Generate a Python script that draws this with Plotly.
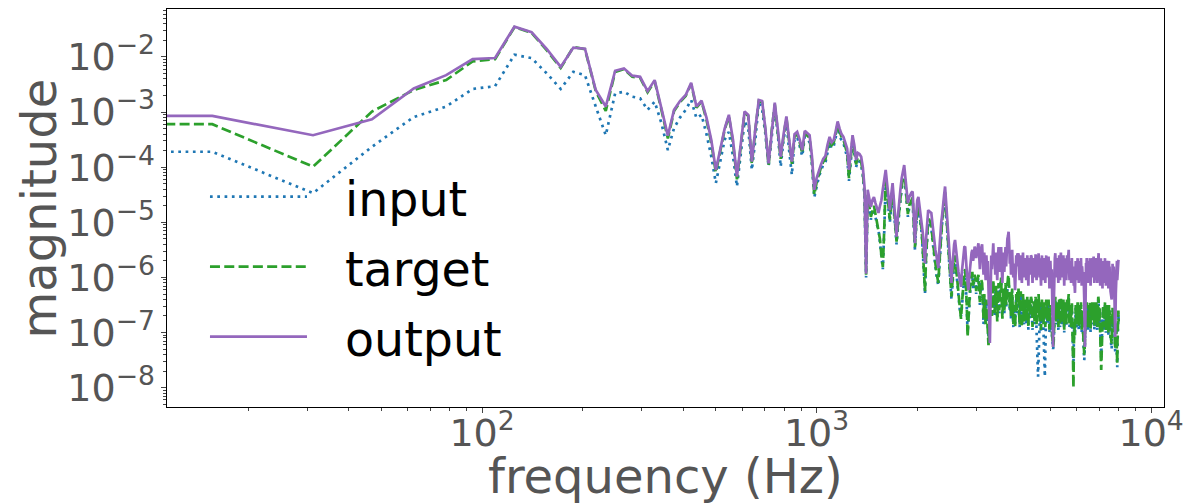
import numpy as np
import plotly.graph_objects as go

SAMPLE_RATE = 16000
N_FFT = 1024

# log10 magnitudes per rFFT bin (k = 0 .. 512)
input_log10 = [
-3.72,-3.72,-4.47,-3.63,-3.09,-2.90,-2.58,-2.53,-1.96,-2.02,
-2.30,-2.58,-2.27,-2.33,-2.90,-3.42,-2.66,-2.63,-2.72,-2.75,
-2.96,-2.81,-3.20,-3.69,-3.29,-3.10,-2.96,-2.78,-3.11,-3.05,
-3.40,-3.80,-4.29,-3.90,-3.50,-3.36,-3.80,-4.35,-3.70,-3.17,
-3.30,-4.05,-3.50,-2.83,-2.95,-3.40,-3.99,-3.50,-2.93,-3.40,
-3.99,-3.50,-3.17,-3.70,-4.14,-3.50,-3.45,-3.62,-3.80,-3.45,
-3.48,-3.55,-3.95,-4.55,-4.35,-4.18,-4.06,-3.96,-3.92,-3.72,
-3.56,-3.66,-3.62,-3.46,-3.28,-3.42,-3.52,-3.56,-3.68,-3.82,
-4.25,-3.84,-3.54,-3.74,-4.00,-3.88,-3.90,-3.96,-4.15,-4.50,
-6.00,-4.55,-4.80,-4.95,-4.85,-4.75,-4.90,-5.05,-5.12,-5.35,
-5.65,-5.85,-5.15,-4.25,-4.50,-4.75,-5.00,-4.70,-4.45,-4.80,
-5.20,-5.40,-5.10,-4.80,-4.60,-4.40,-4.20,-4.10,-4.35,-4.65,
-4.90,-4.75,-4.70,-4.65,-4.60,-5.10,-5.50,-5.10,-4.80,-4.75,
-4.90,-5.05,-5.20,-5.55,-5.95,-6.30,-5.65,-5.20,-5.00,-5.00,
-5.05,-5.10,-5.30,-5.50,-5.70,-5.85,-5.95,-6.05,-6.15,-5.80,
-5.45,-5.20,-5.00,-4.85,-4.65,-4.50,-4.80,-5.10,-5.45,-5.65,
-5.90,-6.20,-6.40,-6.15,-5.90,-5.75,-5.65,-5.85,-6.00,-6.15,
-6.35,-6.50,-6.65,-6.70,-6.55,-6.30,-6.10,-5.95,-5.90,-6.15,
-6.55,-7.00,-6.75,-6.45,-6.25,-6.10,-6.00,-5.95,-6.20,-6.10,
-6.00,-6.10,-6.30,-6.15,-6.05,-6.00,-6.25,-6.50,-6.20,-6.10,
-6.20,-6.40,-6.85,-6.35,-6.60,-6.80,-6.45,-6.75,-6.90,-7.10,
-6.85,-6.45,-6.25,-6.50,-6.65,-6.30,-6.10,-6.45,-6.70,-6.30,
-6.20,-6.55,-6.75,-6.45,-6.15,-6.65,-6.30,-6.10,-6.05,-6.50,
-6.70,-6.45,-6.25,-6.65,-6.35,-6.15,-6.55,-6.30,-6.10,-6.05,
-6.00,-6.25,-6.60,-6.35,-6.75,-6.45,-6.25,-6.65,-6.90,-6.55,
-6.80,-6.85,-6.60,-6.35,-6.65,-6.30,-6.50,-6.25,-6.70,-6.90,
-6.50,-6.30,-6.75,-6.85,-6.55,-6.35,-6.65,-6.85,-6.45,-6.60,
-6.50,-6.85,-6.70,-6.40,-6.65,-6.95,-6.55,-6.45,-6.75,-6.50,
-6.40,-6.45,-6.70,-6.95,-6.55,-6.75,-6.45,-6.85,-6.65,-6.40,
-6.70,-7.00,-7.30,-7.60,-7.80,-7.50,-7.00,-6.85,-6.50,-6.75,
-7.00,-6.65,-6.45,-6.80,-6.55,-6.90,-7.20,-7.50,-7.80,-7.40,
-6.90,-6.45,-6.80,-6.55,-6.85,-6.65,-6.45,-6.75,-7.00,-6.70,
-6.55,-6.80,-6.95,-7.05,-7.15,-7.25,-7.30,-7.25,-6.95,-6.65,
-6.50,-6.40,-6.65,-6.85,-6.55,-6.80,-6.50,-6.70,-6.95,-6.60,
-6.45,-6.75,-6.90,-6.55,-6.40,-6.70,-6.85,-6.50,-6.80,-6.60,
-6.45,-6.75,-7.00,-6.65,-6.50,-6.80,-6.55,-6.90,-6.70,-6.45,
-6.65,-6.50,-6.40,-6.35,-6.70,-6.90,-6.60,-6.80,-6.55,-6.95,
-6.70,-6.50,-6.75,-7.00,-7.30,-7.60,-7.20,-6.85,-7.00,-7.05,
-6.80,-6.55,-6.70,-6.90,-6.60,-6.75,-6.50,-6.85,-6.65,-6.95,
-6.60,-6.80,-6.55,-6.90,-6.70,-6.50,-6.75,-7.00,-6.65,-6.85,
-6.70,-6.95,-7.10,-7.30,-7.50,-7.37,-7.25,-6.95,-6.75,-6.60,
-6.70,-6.50,-6.85,-6.65,-6.95,-6.60,-6.80,-6.55,-6.90,-6.70,
-6.50,-6.80,-7.00,-6.65,-6.55,-6.85,-6.70,-6.50,-6.75,-6.60,
-6.55,-6.50,-6.75,-6.95,-6.65,-6.80,-6.55,-6.90,-6.70,-6.50,
-6.80,-6.60,-6.95,-6.65,-6.45,-6.40,-6.45,-6.70,-6.85,-6.60,
-6.75,-7.00,-7.15,-7.35,-7.45,-7.25,-6.95,-6.75,-7.05,-6.70,
-6.55,-6.85,-6.70,-6.95,-6.60,-6.80,-6.50,-6.90,-6.65,-7.00,
-6.75,-6.55,-6.85,-6.70,-6.95,-6.60,-6.80,-7.05,-6.70,-6.55,
-6.90,-6.65,-7.00,-6.75,-7.10,-7.15,-7.20,-7.25,-7.30,-7.05,
-6.75,-6.60,-6.90,-6.70,-6.95,-6.65,-6.80,-7.05,-7.15,-7.25,
-7.35,-7.15,-6.95,-6.85,-7.10,-7.30,-7.50,-7.63,-7.20,-6.75,
-6.90,-6.65,-6.85,
]

target_log10 = [
-3.22,-3.22,-3.99,-2.99,-2.60,-2.42,-2.08,-2.04,-1.46,-1.56,
-1.88,-2.20,-1.82,-1.86,-2.62,-2.98,-2.27,-2.22,-2.36,-2.38,
-2.64,-2.44,-2.96,-3.48,-2.98,-2.82,-2.71,-2.49,-2.92,-2.81,
-3.14,-3.55,-4.10,-3.72,-3.32,-3.07,-3.55,-4.22,-3.62,-3.01,
-3.07,-3.95,-3.32,-2.80,-2.82,-3.33,-3.97,-3.33,-2.86,-3.33,
-3.85,-3.44,-3.10,-3.54,-3.94,-3.44,-3.40,-3.55,-3.75,-3.38,
-3.42,-3.47,-3.88,-4.50,-4.28,-4.12,-4.00,-3.90,-3.86,-3.66,
-3.50,-3.60,-3.56,-3.40,-3.22,-3.35,-3.45,-3.50,-3.62,-3.75,
-4.20,-3.78,-3.48,-3.68,-3.95,-3.82,-3.84,-3.90,-4.10,-4.45,
-5.95,-4.50,-4.75,-4.90,-4.80,-4.70,-4.85,-5.00,-5.08,-5.30,
-5.60,-5.81,-5.10,-4.20,-4.45,-4.70,-4.95,-4.65,-4.40,-4.75,
-5.15,-5.35,-5.05,-4.75,-4.55,-4.35,-4.15,-4.05,-4.30,-4.60,
-4.85,-4.70,-4.65,-4.60,-4.55,-5.05,-5.45,-5.05,-4.75,-4.70,
-4.85,-5.00,-5.15,-5.50,-5.90,-6.25,-5.60,-5.15,-4.95,-4.95,
-5.00,-5.05,-5.25,-5.45,-5.65,-5.80,-5.90,-6.00,-6.10,-5.75,
-5.40,-5.15,-4.95,-4.80,-4.60,-4.45,-4.75,-5.05,-5.40,-5.60,
-5.85,-6.15,-6.35,-6.10,-5.85,-5.70,-5.60,-5.80,-5.95,-6.10,
-6.30,-6.45,-6.60,-6.75,-6.50,-6.25,-6.05,-5.90,-5.85,-6.10,
-6.50,-7.08,-6.70,-6.40,-6.20,-6.05,-5.95,-5.90,-6.15,-6.05,
-5.95,-6.05,-6.25,-6.10,-6.00,-5.95,-6.20,-6.45,-6.15,-6.05,
-6.10,-6.45,-6.75,-6.30,-6.55,-6.85,-6.40,-6.70,-6.95,-7.23,
-6.80,-6.50,-6.20,-6.45,-6.70,-6.25,-6.05,-6.40,-6.65,-6.35,
-6.15,-6.50,-6.80,-6.40,-6.10,-6.60,-6.35,-6.05,-6.00,-6.45,
-6.75,-6.40,-6.20,-6.60,-6.30,-6.10,-6.50,-6.25,-6.05,-6.00,
-5.95,-6.20,-6.55,-6.30,-6.70,-6.40,-6.20,-6.60,-6.85,-6.50,
-6.75,-6.90,-6.55,-6.30,-6.60,-6.25,-6.45,-6.20,-6.65,-6.85,
-6.45,-6.25,-6.70,-6.90,-6.50,-6.30,-6.60,-6.80,-6.40,-6.55,
-6.45,-6.80,-6.65,-6.35,-6.60,-6.90,-6.50,-6.40,-6.70,-6.45,
-6.35,-6.40,-6.65,-6.90,-6.50,-6.70,-6.40,-6.80,-6.60,-6.35,
-6.65,-6.85,-6.50,-6.40,-6.65,-6.30,-6.55,-6.80,-6.45,-6.70,
-6.95,-6.60,-6.40,-6.75,-6.50,-6.85,-6.65,-6.45,-6.70,-6.90,
-6.55,-6.40,-6.75,-6.50,-6.80,-6.60,-6.40,-6.70,-6.95,-6.65,
-6.50,-6.75,-6.90,-7.00,-7.10,-7.20,-7.25,-7.20,-6.90,-6.60,
-6.45,-6.35,-6.60,-6.80,-6.50,-6.75,-6.45,-6.65,-6.90,-6.55,
-6.40,-6.70,-6.85,-6.50,-6.35,-6.65,-6.80,-6.45,-6.75,-6.55,
-6.40,-6.70,-6.95,-6.60,-6.45,-6.75,-6.50,-6.85,-6.65,-6.40,
-6.60,-6.45,-6.35,-6.30,-6.65,-6.85,-6.55,-6.75,-6.50,-6.90,
-6.65,-6.45,-6.70,-7.00,-7.50,-8.00,-7.40,-6.80,-6.95,-7.05,
-6.75,-6.50,-6.65,-6.85,-6.55,-6.70,-6.45,-6.80,-6.60,-6.90,
-6.55,-6.75,-6.50,-6.85,-6.65,-6.45,-6.70,-6.95,-6.60,-6.80,
-6.65,-6.90,-7.05,-7.20,-7.40,-7.30,-7.20,-6.90,-6.70,-6.55,
-6.65,-6.45,-6.80,-6.60,-6.90,-6.55,-6.75,-6.50,-6.85,-6.65,
-6.45,-6.75,-6.95,-6.60,-6.50,-6.80,-6.65,-6.45,-6.70,-6.55,
-6.50,-6.45,-6.70,-6.90,-6.60,-6.75,-6.50,-6.85,-6.65,-6.45,
-6.75,-6.55,-6.90,-6.60,-6.40,-6.35,-6.40,-6.65,-6.80,-6.55,
-6.70,-6.95,-7.20,-7.50,-7.68,-7.30,-6.90,-6.70,-7.00,-6.65,
-6.50,-6.80,-6.65,-6.90,-6.55,-6.75,-6.45,-6.85,-6.60,-6.95,
-6.70,-6.50,-6.80,-6.65,-6.90,-6.55,-6.75,-7.00,-6.65,-6.50,
-6.85,-6.60,-6.95,-6.70,-7.05,-7.10,-7.15,-7.15,-7.20,-7.00,
-6.70,-6.55,-6.85,-6.65,-6.90,-6.60,-6.75,-7.00,-7.10,-7.20,
-7.30,-7.10,-6.90,-6.80,-7.00,-7.20,-7.40,-7.56,-7.10,-6.70,
-6.85,-6.60,-6.80,
]

output_log10 = [
-3.07,-3.07,-3.42,-3.13,-2.57,-2.33,-2.04,-2.02,-1.45,-1.55,
-1.86,-2.18,-1.83,-1.85,-2.60,-2.90,-2.25,-2.21,-2.34,-2.36,
-2.62,-2.42,-2.93,-3.43,-2.96,-2.80,-2.69,-2.47,-2.90,-2.79,
-3.10,-3.50,-4.05,-3.70,-3.30,-3.05,-3.50,-4.17,-3.60,-2.99,
-3.05,-3.90,-3.30,-2.78,-2.80,-3.30,-3.93,-3.30,-2.83,-3.30,
-3.81,-3.40,-3.08,-3.50,-3.90,-3.40,-3.36,-3.50,-3.69,-3.34,
-3.38,-3.42,-3.80,-4.41,-4.20,-4.05,-3.95,-3.85,-3.80,-3.60,
-3.45,-3.55,-3.51,-3.35,-3.17,-3.30,-3.40,-3.45,-3.55,-3.66,
-4.05,-3.70,-3.42,-3.60,-3.87,-3.74,-3.76,-3.81,-4.00,-4.35,
-5.93,-4.41,-4.60,-4.72,-4.60,-4.54,-4.65,-4.75,-4.83,-4.70,
-4.60,-4.40,-4.20,-4.05,-4.30,-4.55,-4.78,-4.50,-4.29,-4.60,
-5.00,-5.26,-4.90,-4.60,-4.40,-4.20,-4.05,-3.96,-4.20,-4.45,
-4.65,-4.55,-4.50,-4.46,-4.44,-4.90,-5.38,-4.90,-4.60,-4.54,
-4.70,-4.85,-4.95,-5.20,-5.50,-5.74,-5.30,-4.95,-4.78,-4.80,
-4.82,-4.83,-5.00,-5.20,-5.40,-5.50,-5.60,-5.70,-5.83,-5.50,
-5.20,-5.00,-4.85,-4.72,-4.50,-4.35,-4.60,-4.90,-5.20,-5.35,
-5.60,-5.90,-6.10,-5.80,-5.55,-5.40,-5.32,-5.50,-5.60,-5.75,
-5.90,-6.00,-6.10,-6.17,-5.90,-5.70,-5.55,-5.45,-5.44,-5.60,
-5.90,-6.10,-6.23,-6.00,-5.80,-5.65,-5.55,-5.50,-5.70,-5.60,
-5.44,-5.50,-5.65,-5.55,-5.45,-5.38,-5.60,-5.85,-5.50,-5.42,
-5.40,-5.70,-5.95,-5.55,-5.80,-6.05,-5.60,-5.90,-5.70,-6.10,
-6.60,-7.19,-6.40,-5.60,-5.85,-5.50,-5.38,-5.75,-5.60,-5.95,
-5.55,-5.80,-6.05,-5.65,-5.45,-5.90,-5.70,-5.50,-5.45,-5.85,
-6.10,-5.70,-5.55,-5.90,-5.60,-5.45,-5.80,-5.40,-5.30,-5.25,
-5.17,-5.40,-5.75,-5.55,-5.95,-5.65,-5.50,-5.85,-6.00,-5.75,
-6.10,-6.23,-5.90,-5.60,-5.80,-5.56,-5.70,-5.56,-5.90,-6.05,
-5.70,-5.60,-5.95,-6.10,-5.75,-5.55,-5.85,-6.00,-5.65,-5.80,
-5.74,-6.05,-5.90,-5.60,-5.85,-6.15,-5.75,-5.65,-5.95,-5.70,
-5.60,-5.62,-5.85,-6.10,-5.70,-5.90,-5.65,-6.00,-5.80,-5.58,
-5.90,-6.05,-5.70,-5.60,-5.85,-5.56,-5.75,-6.00,-5.65,-5.90,
-6.15,-5.80,-5.60,-5.95,-5.70,-6.05,-5.85,-5.65,-5.90,-6.10,
-5.75,-5.60,-5.95,-5.70,-6.00,-5.80,-5.62,-5.90,-6.20,-5.85,
-5.70,-5.95,-6.10,-5.85,-6.30,-6.80,-7.26,-6.70,-6.10,-5.90,
-5.65,-5.56,-5.80,-6.00,-5.70,-5.95,-5.65,-5.85,-6.10,-5.75,
-5.60,-5.90,-6.05,-5.70,-5.55,-5.85,-6.00,-5.65,-5.95,-5.75,
-5.60,-5.90,-6.15,-5.80,-5.65,-5.95,-5.70,-6.05,-5.85,-5.60,
-5.80,-5.65,-5.55,-5.50,-5.85,-6.05,-5.75,-5.95,-5.70,-6.10,
-5.85,-5.65,-5.90,-6.10,-5.80,-5.95,-6.15,-6.00,-6.20,-6.28,
-5.95,-5.70,-5.85,-6.05,-5.75,-5.90,-5.65,-6.00,-5.80,-6.10,
-5.75,-5.95,-5.70,-6.05,-5.85,-5.65,-5.90,-6.15,-5.80,-6.00,
-5.85,-6.10,-5.90,-6.05,-6.40,-6.85,-7.26,-6.80,-6.00,-5.74,
-5.85,-5.65,-6.00,-5.80,-6.10,-5.75,-5.95,-5.70,-6.05,-5.85,
-5.65,-5.95,-6.15,-5.80,-5.70,-6.00,-5.85,-5.65,-5.90,-5.75,
-5.68,-5.62,-5.90,-6.10,-5.80,-5.95,-5.70,-6.05,-5.85,-5.65,
-5.95,-5.75,-6.10,-5.80,-5.60,-5.56,-5.56,-5.85,-6.00,-5.75,
-5.90,-6.15,-5.80,-5.65,-5.95,-6.05,-5.75,-5.90,-6.20,-5.85,
-5.70,-6.00,-5.85,-6.10,-5.75,-5.95,-5.65,-6.05,-5.80,-6.15,
-5.90,-5.70,-6.00,-5.85,-6.10,-5.75,-5.95,-6.20,-5.85,-5.70,
-6.05,-5.80,-6.15,-5.90,-6.25,-6.30,-6.35,-6.38,-6.40,-6.20,
-5.90,-5.75,-6.05,-5.85,-6.10,-5.80,-5.95,-6.20,-6.30,-6.60,
-7.08,-6.70,-6.30,-6.00,-5.80,-5.95,-5.70,-6.05,-5.85,-5.75,
-5.90,-5.70,-5.68,
]

series_names = ["input", "target", "output"]
series_colors = ["#1f77b4", "#2ca02c", "#9467bd"]
series_dash = ["2.7px,4.6px", "10px,4.3px", "solid"]
series_values = [input_log10, target_log10, output_log10]

LINE_W = 2.7


def freq_axis(n):
    f = np.arange(n) * SAMPLE_RATE / N_FFT
    # like matplotlib's log "clip": the DC bin is pushed far to the left
    f[0] = 1e-6
    return f


fig = go.Figure()
for name, color, dash, vals in zip(series_names, series_colors, series_dash, series_values):
    mag = 10.0 ** np.array(vals)
    fig.add_trace(go.Scatter(
        x=freq_axis(len(mag)), y=mag, mode="lines", name=name,
        line=dict(color=color, width=LINE_W, dash=dash),
        showlegend=False,
    ))

# hand-built legend (long handles like matplotlib)
legend_y = [0.5284, 0.3525, 0.1766]
for name, color, dash, ly in zip(series_names, series_colors, series_dash, legend_y):
    fig.add_shape(type="line", xref="paper", yref="paper",
                  x0=0.0431, x1=0.1404, y0=ly, y1=ly,
                  line=dict(color=color, width=LINE_W, dash=dash))
    fig.add_annotation(text=name, xref="paper", yref="paper",
                       x=0.177, y=ly - 0.006, xanchor="left", yanchor="middle",
                       showarrow=False,
                       font=dict(family="DejaVu Sans", size=47.5, color="black"))

TICKFONT = dict(family="DejaVu Sans", size=30.4, color="#555555")
axis_common = dict(
    type="log", dtick=1, exponentformat="power", showexponent="all",
    ticks="outside", ticklen=5, tickwidth=1, tickcolor="#444444",
    minor=dict(ticks="outside", ticklen=3, tickwidth=1, tickcolor="#444444",
               dtick="D1", showgrid=False),
    showgrid=False, zeroline=False,
    showline=True, linecolor="black", linewidth=1, mirror=True,
    tickfont=TICKFONT, automargin=False,
)

fig.update_layout(
    width=1188, height=503,
    margin=dict(l=167, r=24, t=9, b=96),
    paper_bgcolor="white", plot_bgcolor="white",
    font=dict(family="DejaVu Sans"),
    xaxis=dict(range=[1.0583, 4.0386], ticklabelstandoff=-11, **axis_common),
    yaxis=dict(range=[-8.35, -1.13], **axis_common),
)

fig.add_annotation(text="frequency (Hz)", xref="paper", yref="paper",
                   x=0.5, y=-0.097, xanchor="center", yanchor="top",
                   showarrow=False,
                   font=dict(family="DejaVu Sans", size=48, color="#555555"))
fig.add_annotation(text="magnitude", xref="paper", yref="paper",
                   x=-0.128, y=0.5, xanchor="center", yanchor="middle",
                   textangle=-90, showarrow=False,
                   font=dict(family="DejaVu Sans", size=48, color="#555555"))

fig.write_html("out.html")
